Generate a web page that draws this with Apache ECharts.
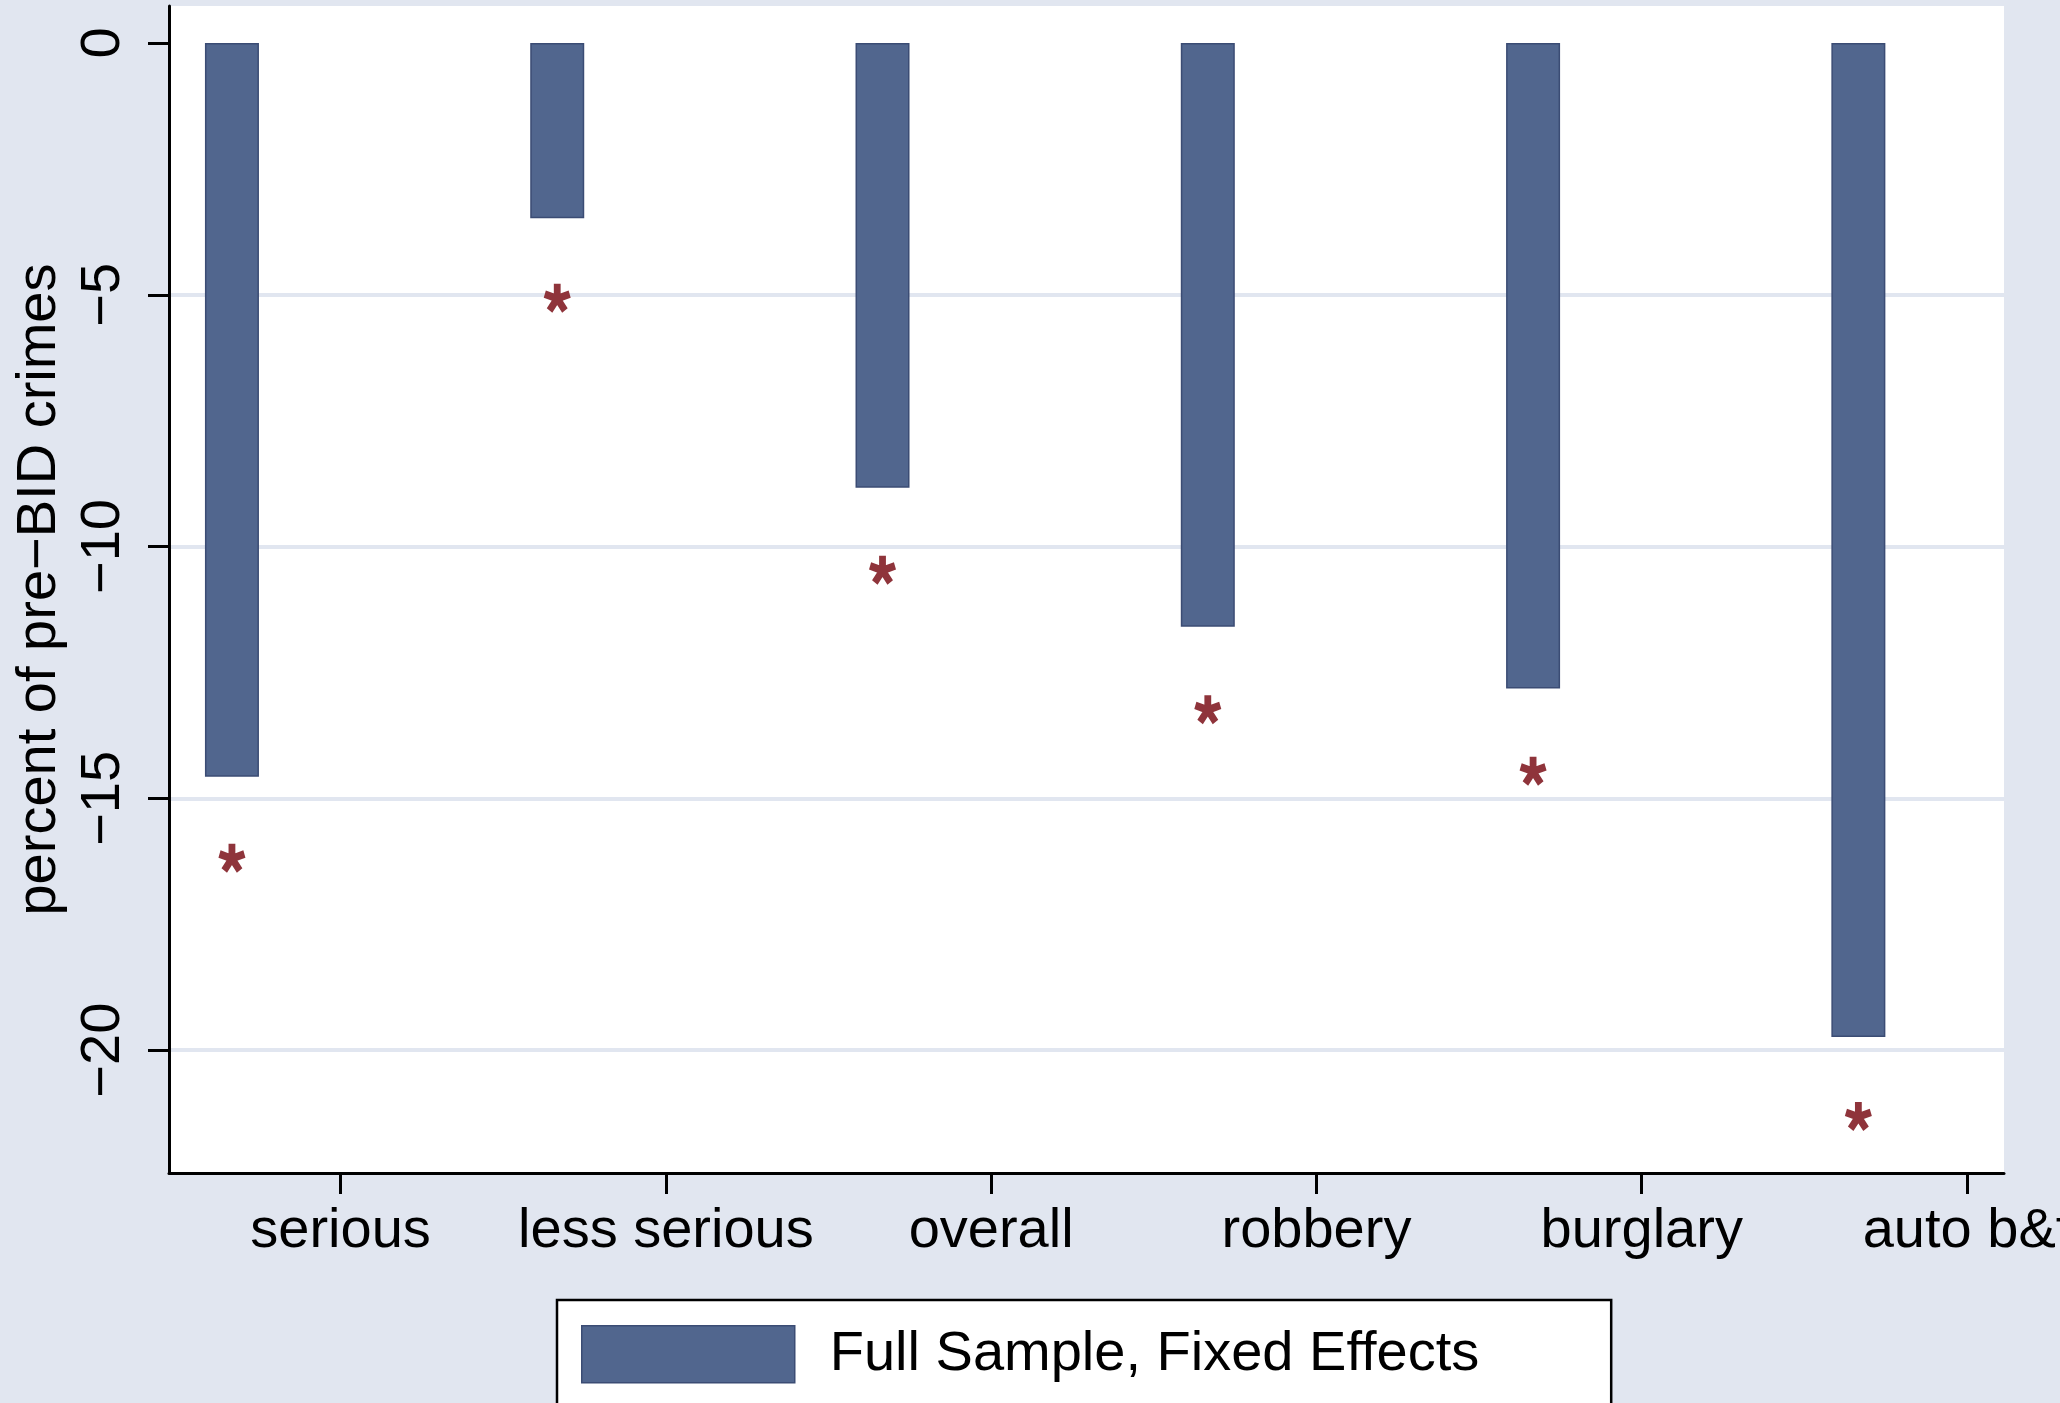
<!DOCTYPE html>
<html>
<head>
<meta charset="utf-8">
<script src="https://cdn.jsdelivr.net/npm/echarts@6/dist/echarts.min.js"></script>
<style>
  html, body { margin: 0; padding: 0; background: #E1E6F0; }
  #chart { width: 2060px; height: 1403px; }
</style>
</head>
<body>
<div id="chart"></div>
<script>
// ---- data ----
const categories = ['serious', 'less serious', 'overall', 'robbery', 'burglary', 'auto b&t'];
const barValues = [-14.57, -3.48, -8.83, -11.59, -12.82, -19.74];      // Full Sample, Fixed Effects
const starValues = [-16.19, -5.07, -10.47, -13.24, -14.46, -21.32];    // asterisk markers
const yTicks = [-20, -15, -10, -5, 0];
const seriesName = 'Full Sample, Fixed Effects';
const yTitle = 'percent of pre\u2212BID crimes';

// ---- layout constants ----
const BAR_SHIFT = -0.334;      // bars sit left of their category tick
const X_MIN = 0.4725, X_MAX = 6.1137;
const Y_MIN = -22.44, Y_MAX = 0.735;
const FONT = "'Liberation Sans', Arial, Helvetica, sans-serif";
const BG = '#E1E6F0';

// five-armed asterisk path
function asteriskPath() {
  const L = 50, hw = 13;
  const angles = [90, 18, 162, 234, 306];
  let d = '';
  angles.forEach(a => {
    const t = a * Math.PI / 180;
    const dx = Math.cos(t), dy = -Math.sin(t);
    const px = Math.sin(t), py = Math.cos(t);
    const pts = [
      [px * hw, py * hw],
      [px * hw + dx * L, py * hw + dy * L],
      [-px * hw + dx * L, -py * hw + dy * L],
      [-px * hw, -py * hw]
    ];
    d += 'M' + pts.map(p => (p[0] + 60).toFixed(2) + ' ' + (p[1] + 60).toFixed(2)).join('L') + 'Z';
  });
  return 'path://' + d;
}

const xPos = categories.map((c, i) => i + 1);
const chart = echarts.init(document.getElementById('chart'), null, { renderer: 'canvas' });

chart.setOption({
  backgroundColor: BG,
  animation: false,
  textStyle: { fontFamily: FONT },
  grid: {
    left: 169, right: 56, top: 6, bottom: 230,
    outerBoundsMode: 'none',
    containLabel: false,
    show: true, backgroundColor: '#FFFFFF', borderWidth: 0
  },
  xAxis: {
    type: 'value',
    min: X_MIN, max: X_MAX,
    axisLine: { show: true, onZero: false, lineStyle: { color: '#000', width: 3 } },
    axisTick: { show: true, length: 21, lineStyle: { color: '#000', width: 3 }, customValues: xPos },
    axisLabel: {
      show: true, customValues: xPos, margin: 31,
      fontSize: 56, color: '#000', fontFamily: FONT,
      hideOverlap: false,
      formatter: v => categories[Math.round(v) - 1] || ''
    },
    splitLine: { show: false }
  },
  yAxis: {
    type: 'value',
    min: Y_MIN, max: Y_MAX,
    name: yTitle,
    nameLocation: 'middle',
    nameRotate: 90,
    nameGap: 101,
    nameTextStyle: { fontSize: 56, color: '#000', fontFamily: FONT },
    axisLine: { show: true, lineStyle: { color: '#000', width: 3 } },
    axisTick: { show: true, length: 21, lineStyle: { color: '#000', width: 3 }, customValues: yTicks },
    axisLabel: {
      show: true, customValues: yTicks, rotate: 90, margin: 37,
      fontSize: 56, color: '#000', fontFamily: FONT,
      formatter: v => (v < 0 ? '\u2212' + (-v) : String(v))
    },
    splitLine: { show: true, lineStyle: { color: [BG, BG, BG, BG, '#FFFFFF'], width: 4 } }
  },
  legend: {
    show: true,
    data: [seriesName],
    left: 557, top: 1300,
    orient: 'horizontal',
    padding: [25, 132, 60, 24],
    backgroundColor: '#FFFFFF',
    borderColor: '#000', borderWidth: 2.5, borderRadius: 0,
    icon: 'rect',
    itemWidth: 213, itemHeight: 57,
    itemStyle: { color: '#51668E', borderColor: '#3B4C74', borderWidth: 1.5 },
    textStyle: { fontSize: 56, color: '#000', fontFamily: FONT, padding: [0, 0, 0, 30] },
    selectedMode: false
  },
  series: [
    {
      name: seriesName,
      type: 'bar',
      barWidth: 54,
      z: 3,
      itemStyle: { color: '#51668E', borderColor: '#3B4C74', borderWidth: 1.5 },
      data: barValues.map((v, i) => [xPos[i] + BAR_SHIFT, v])
    },
    {
      name: 'asterisk',
      type: 'scatter',
      z: 4,
      symbol: asteriskPath(),
      symbolSize: [27, 29],
      itemStyle: { color: '#8F343B', opacity: 1 },
      data: starValues.map((v, i) => [xPos[i] + BAR_SHIFT, v])
    }
  ]
});
</script>
</body>
</html>
